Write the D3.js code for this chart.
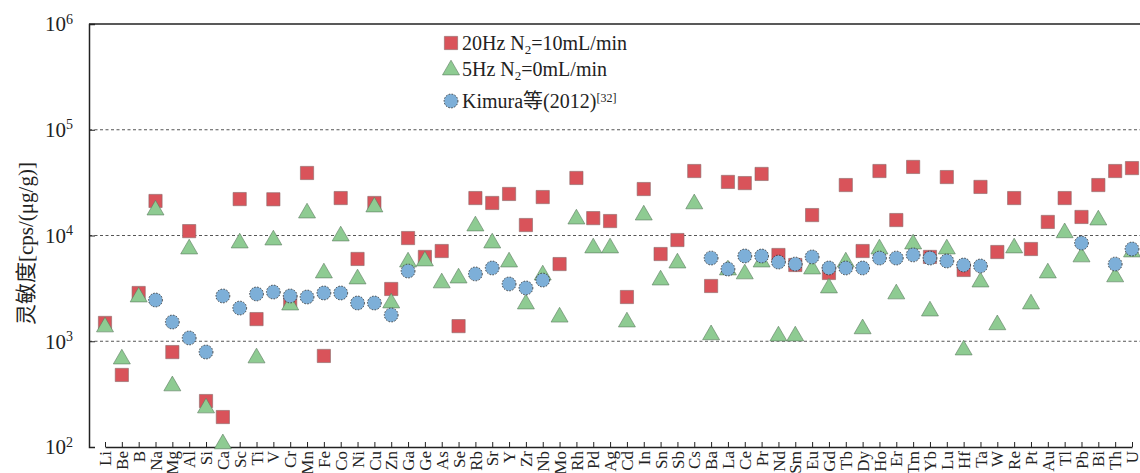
<!DOCTYPE html>
<html>
<head>
<meta charset="utf-8">
<script src="https://cdn.jsdelivr.net/npm/d3@7"></script>
<style>
  body { margin: 0; background: #fff; }
  text { font-family: "Liberation Serif", "Noto Sans CJK SC", serif; fill: #222; }
</style>
</head>
<body>
<svg id="chart" width="1140" height="473"></svg>
<script>
// element names along the x axis
const elements = ["Li","Be","B","Na","Mg","Al","Si","Ca","Sc","Ti","V","Cr","Mn","Fe","Co","Ni","Cu","Zn",
  "Ga","Ge","As","Se","Rb","Sr","Y","Zr","Nb","Mo","Rh","Pd","Ag","Cd","In","Sn","Sb","Cs","Ba","La","Ce",
  "Pr","Nd","Sm","Eu","Gd","Tb","Dy","Ho","Er","Tm","Yb","Lu","Hf","Ta","W","Re","Pt","Au","Tl","Pb","Bi","Th","U"];

// 20Hz N2=10mL/min
const hz20 = [1490,480,2860,21200,790,11000,272,192,22100,1620,22000,2350,39000,726,22600,6000,20300,3120,
  9460,6270,7130,1390,22600,20300,24700,12560,23100,5370,35000,14600,13700,2620,27500,6680,9060,40700,3330,32100,31300,
  38200,6540,5260,15600,4420,30000,7130,40700,14000,44500,6270,35700,4720,28800,6980,22600,7450,13430,22600,14970,30000,40700,43400];

// 5Hz N2=0mL/min
const hz5 = [1365,679,2620,17400,378,7450,234,107,8490,695,9060,2200,16300,4420,9890,3880,18600,2300,
  5610,5740,3560,3960,12300,8490,5610,2250,4230,1690,14300,7620,7620,1520,15600,3790,5490,19900,1150,4720,4330,
  5610,1120,1120,4820,3190,5610,1310,7450,2800,8310,1930,7450,826,3630,1430,7620,2250,4420,10600,6270,14000,4060,6980];

// Kimura et al. (2012)
const kimura = [null,null,null,2455,1520,1074,791,2680,2060,2800,2920,2680,2620,2860,2860,2300,2300,1770,
  4610,null,null,null,4330,4930,3480,3190,3790,null,null,null,null,null,null,null,null,null,6120,4820,6400,
  6400,5610,5370,6270,4930,4930,4930,6120,6120,6550,6120,5740,5260,5150,null,null,null,null,null,8490,null,5370,7450];

const yTicks = [1e2,1e3,1e4,1e5,1e6];

const margin = {top: 24, left: 89, right: 0, bottom: 26};
const width = 1140 - margin.left - margin.right;
const height = 473 - margin.top - margin.bottom;

const svg = d3.select("#chart")
  .append("g")
  .attr("transform", "translate(" + margin.left + "," + margin.top + ")");

const x = d3.scalePoint().domain(elements).range([16, 1043]);
const y = d3.scaleLog().domain([1e2, 1e6]).range([height, 0]);

// dashed grid at the inner decades
svg.append("g")
  .selectAll("line")
  .data(yTicks.slice(1, -1))
  .enter().append("line")
  .attr("x1", 0).attr("x2", width)
  .attr("y1", d => y(d)).attr("y2", d => y(d))
  .style("stroke", "#555")
  .style("stroke-width", 1)
  .style("stroke-dasharray", "3,2.5");

// frame
svg.append("line").attr("x1", 0).attr("x2", width + 2).attr("y1", 0).attr("y2", 0)
  .style("stroke", "#222").style("stroke-width", 1.5);

// y axis, ticks inward, no labels (labels drawn below with superscripts)
svg.append("g")
  .call(d3.axisLeft(y).tickValues(yTicks).tickSize(-6).tickFormat(""))
  .call(g => g.select(".domain").style("stroke", "#222").style("stroke-width", 1.5))
  .call(g => g.selectAll(".tick line").style("stroke", "#222"));

// x axis, ticks inward
svg.append("g")
  .attr("transform", "translate(0," + height + ")")
  .call(d3.axisBottom(x).tickSize(-5).tickSizeOuter(0).tickFormat(""))
  .call(g => g.select(".domain").style("stroke", "#222").style("stroke-width", 1.5))
  .call(g => g.selectAll(".tick line").style("stroke", "#222"));

// x labels, rotated
svg.append("g")
  .selectAll("text")
  .data(elements)
  .enter().append("text")
  .attr("transform", d => "translate(" + x(d) + "," + (height + 4) + ") rotate(-90)")
  .attr("dy", "0.36em")
  .attr("text-anchor", "end")
  .style("font-size", "17px")
  .text(d => d);

// y labels 10^n
const yl = svg.append("g")
  .selectAll("text")
  .data(yTicks)
  .enter().append("text")
  .attr("x", -44)
  .attr("y", d => y(d))
  .attr("dy", "0.35em")
  .style("font-size", "21px");
yl.append("tspan").text("10");
yl.append("tspan").attr("dy", "-0.55em").style("font-size", "14px")
  .text(d => Math.round(Math.log10(d)));

// y title
svg.append("text")
  .attr("transform", "translate(-63," + (height / 2 + 8) + ") rotate(-90)")
  .attr("text-anchor", "middle")
  .attr("dy", "0.35em")
  .style("font-size", "21px")
  .text("灵敏度[cps/(μg/g)]");

const red = "#d9535a", green = "#8ecb92", blue = "#7dafd8";
const sq = d3.symbol().type(d3.symbolSquare).size(175);
const tri = d3.symbol().type(d3.symbolTriangle).size(125);
const circ = d3.symbol().type(d3.symbolCircle).size(150);

//squares
svg.append("g")
  .selectAll("path")
  .data(elements.map((e, i) => ({e: e, v: hz20[i]})))
  .enter().append("path")
  .attr("d", sq)
  .attr("transform", d => "translate(" + x(d.e) + "," + y(d.v) + ")")
  .style("fill", red)
  .style("stroke", "#8a6a6a")
  .style("stroke-width", 0.6);

//triangles
svg.append("g")
  .selectAll("path")
  .data(elements.map((e, i) => ({e: e, v: hz5[i]})))
  .enter().append("path")
  .attr("d", tri)
  .attr("transform", d => "translate(" + x(d.e) + "," + y(d.v) + ")")
  .style("fill", green)
  .style("stroke", "#5d7a5f")
  .style("stroke-width", 0.6);

//circles
svg.append("g")
  .selectAll("path")
  .data(elements.map((e, i) => ({e: e, v: kimura[i]})).filter(d => d.v != null))
  .enter().append("path")
  .attr("d", circ)
  .attr("transform", d => "translate(" + x(d.e) + "," + y(d.v) + ")")
  .style("fill", blue)
  .style("stroke", "#333")
  .style("stroke-width", 0.9)
  .style("stroke-dasharray", "1.5,1.5");

// legend
const legend = svg.append("g").attr("transform", "translate(362,0)");
legend.append("path").attr("d", sq).attr("transform", "translate(0,19)")
  .style("fill", red).style("stroke", "#8a6a6a").style("stroke-width", 0.6);
legend.append("path").attr("d", tri).attr("transform", "translate(0,46)")
  .style("fill", green).style("stroke", "#5d7a5f").style("stroke-width", 0.6);
legend.append("path").attr("d", circ).attr("transform", "translate(0,77)")
  .style("fill", blue).style("stroke", "#333").style("stroke-width", 0.9).style("stroke-dasharray", "1.5,1.5");

const t1 = legend.append("text").attr("x", 11).attr("y", 26).style("font-size", "20px");
t1.append("tspan").text("20Hz N");
t1.append("tspan").attr("dy", "0.3em").style("font-size", "13px").text("2");
t1.append("tspan").attr("dy", "-0.2em").text("=10mL/min");

const t2 = legend.append("text").attr("x", 11).attr("y", 52).style("font-size", "20px");
t2.append("tspan").text("5Hz N");
t2.append("tspan").attr("dy", "0.3em").style("font-size", "13px").text("2");
t2.append("tspan").attr("dy", "-0.2em").text("=0mL/min");

const t3 = legend.append("text").attr("x", 11).attr("y", 84).style("font-size", "20px");
t3.append("tspan").text("Kimura等(2012)");
t3.append("tspan").attr("dy", "-0.5em").style("font-size", "12px").text("[32]");
</script>
</body>
</html>
